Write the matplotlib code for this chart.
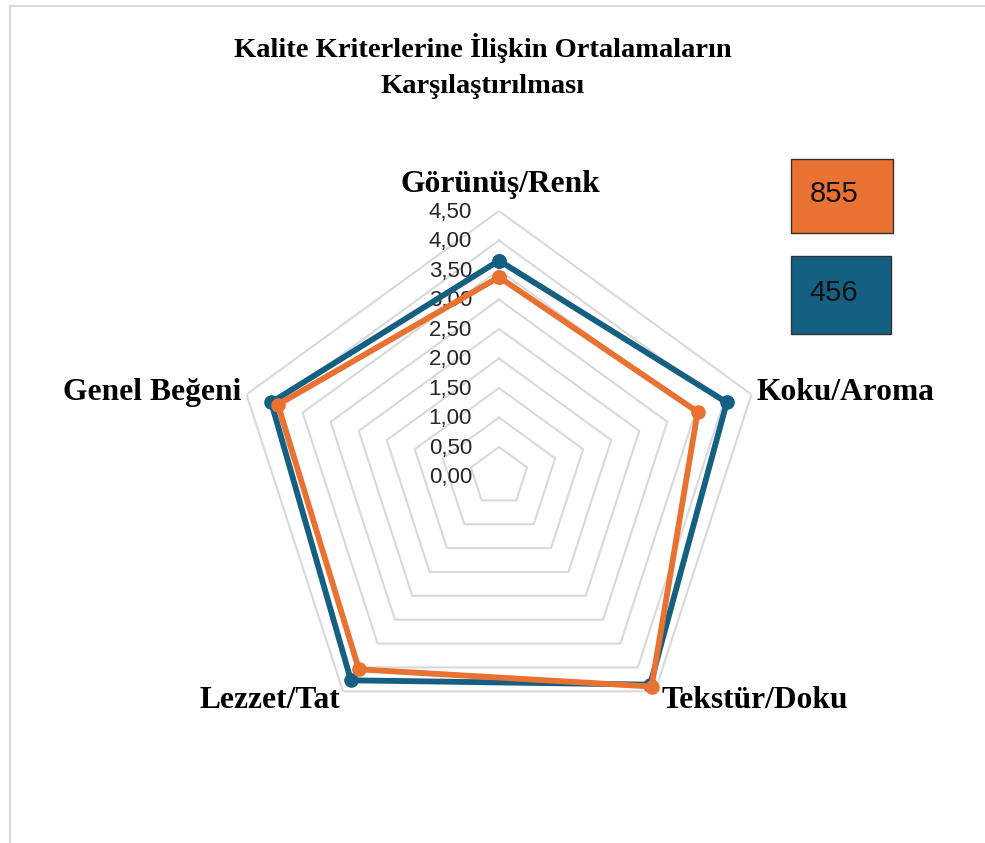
import numpy as np
import matplotlib.pyplot as plt
from matplotlib.patches import Rectangle
from matplotlib.lines import Line2D
from matplotlib.transforms import offset_copy

categories = ["Görünüş/Renk", "Koku/Aroma", "Tekstür/Doku", "Lezzet/Tat", "Genel Beğeni"]
series_names = ["456", "855"]
values_456 = [3.66, 4.06, 4.36, 4.27, 4.06]
values_855 = [3.38, 3.54, 4.40, 4.04, 3.94]
levels = [0.0, 0.5, 1.0, 1.5, 2.0, 2.5, 3.0, 3.5, 4.0, 4.5]
level_labels = ["0,00", "0,50", "1,00", "1,50", "2,00", "2,50", "3,00", "3,50", "4,00", "4,50"]
title = "Kalite Kriterlerine İlişkin Ortalamaların\nKarşılaştırılması"

BLUE = "#156082"
ORANGE = "#E97132"
GRID = "#D9D9D9"

W, H = 985, 843
fig = plt.figure(figsize=(W / 100, H / 100), dpi=100)


def fx(px):
    return px / W


def fy(py):
    return 1 - py / H


# polar axes sized so that r=4.5 sits on the outer pentagon
cx, cy, rad = 499, 476.5, 265.5
ax = fig.add_axes([fx(cx - rad), fy(cy + rad), 2 * rad / W, 2 * rad / H], projection="polar")
ax.set_theta_offset(np.pi / 2)
ax.set_theta_direction(-1)
ax.set_ylim(0, 4.5)
ax.grid(False)
ax.set_xticks([])
ax.set_yticks([])
ax.spines["polar"].set_visible(False)
ax.patch.set_alpha(0)

angles = np.linspace(0, 2 * np.pi, len(categories), endpoint=False)
closed = np.append(angles, angles[0])

# pentagon gridlines
for lv in levels[1:]:
    ax.plot(closed, [lv] * len(closed), color=GRID, lw=1.5, zorder=1)

# radial value labels along the top spoke
lab_tr = offset_copy(ax.transData, fig=fig, x=-27, y=-1, units="dots")
for lv, txt in zip(levels, level_labels):
    ax.text(0, lv, txt, transform=lab_tr, ha="right", va="center",
            fontsize=16, family="Liberation Sans", color="#262626", zorder=2)

for vals, col in [(values_456, BLUE), (values_855, ORANGE)]:
    v = np.append(vals, vals[0])
    ax.plot(closed, v, color=col, lw=4.2, marker="o", markersize=9.5,
            solid_joinstyle="round", zorder=3, clip_on=False)

# category labels, nudged off the outer vertices (pixels)
cat_offsets = [(1, 27, "center"), (5, 2, "left"), (6, -9, "left"), (-3, -9, "right"), (-5, 2, "right")]
for ang, name, (dx, dy, ha) in zip(angles, categories, cat_offsets):
    tr = offset_copy(ax.transData, fig=fig, x=dx, y=dy, units="dots")
    ax.text(ang, 4.5, name, transform=tr, ha=ha, va="center", fontsize=22.7,
            fontweight="bold", family="Liberation Serif", color="black", zorder=4)

fig.text(fx(483), fy(66), title, ha="center", va="center", fontsize=20.5,
         fontweight="bold", family="Liberation Serif", linespacing=1.55)

# legend boxes
boxes = [("855", ORANGE, 791, 159, 893, 233), ("456", BLUE, 791, 256, 891, 334)]
for name, col, x0, y0, x1, y1 in boxes:
    fig.patches.append(Rectangle((fx(x0), fy(y1)), fx(x1 - x0), (y1 - y0) / H,
                                 transform=fig.transFigure, facecolor=col,
                                 edgecolor="#333333", lw=1))
    fig.text(fx(834), fy((y0 + y1) / 2 - 2), name, ha="center", va="center",
             fontsize=21, family="Liberation Sans", color="#111111")

# chart frame (left and top edges)
fig.add_artist(Line2D([fx(9.5), fx(9.5), 1], [0, fy(6), fy(6)],
                      transform=fig.transFigure, color=GRID, lw=1.5))

fig.savefig("out.png", dpi=100, facecolor="white")
